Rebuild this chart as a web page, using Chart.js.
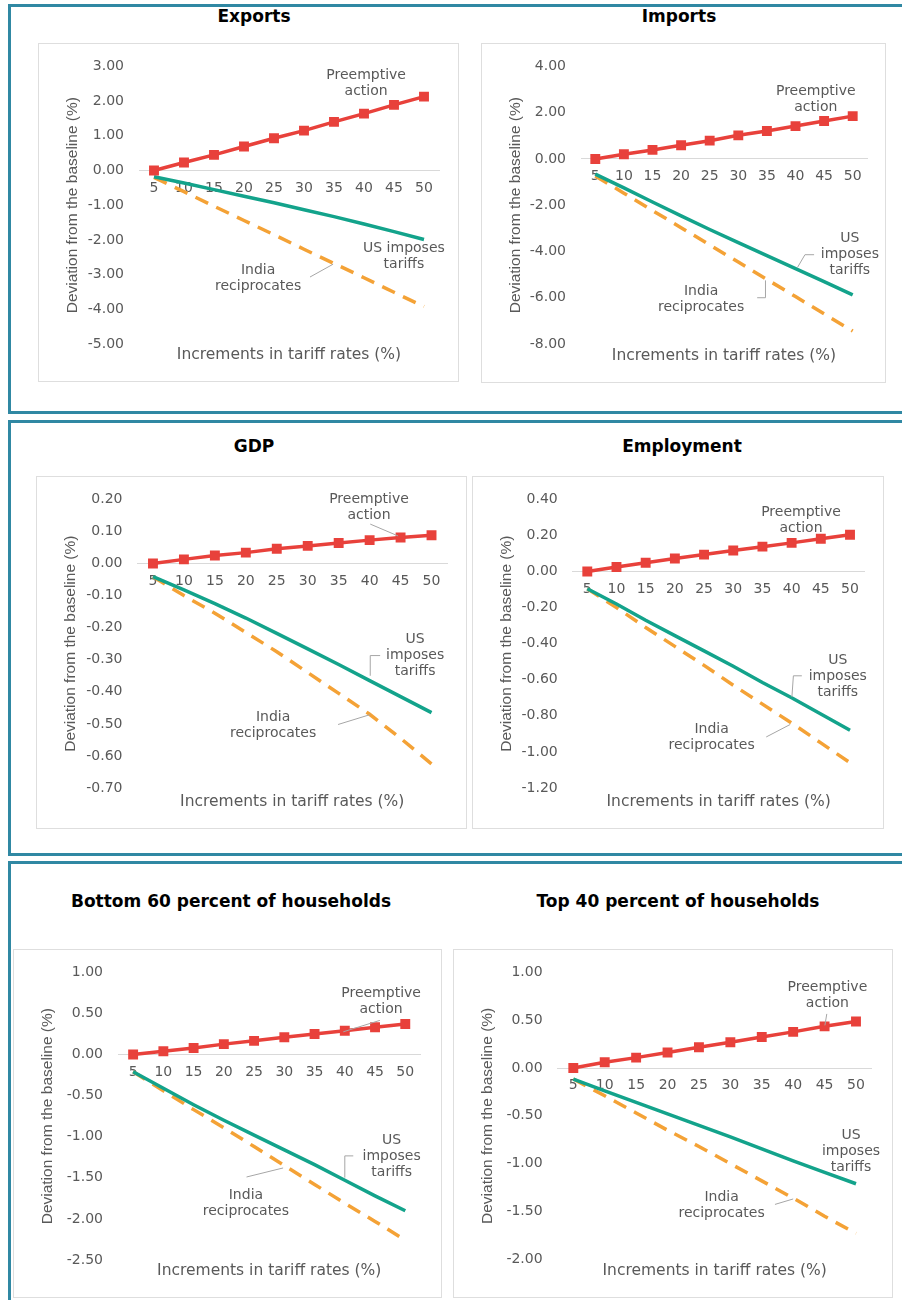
<!DOCTYPE html>
<html>
<head>
<meta charset="utf-8">
<script src="https://cdn.jsdelivr.net/npm/chart.js@4.4.1/dist/chart.umd.min.js"></script>
<style>
  body { margin: 0; background: #fff; width: 902px; height: 1300px; position: relative; overflow: hidden; }
  .row { position: absolute; left: 8px; width: 900px; border: 3px solid #3088a3; border-right: none; box-sizing: border-box; }
  .ttl { position: absolute; width: 440px; text-align: center; font: bold 17px "DejaVu Sans"; color: #000; line-height: 20px; }
  .box { position: absolute; box-shadow: inset 0 0 0 1px #dedede; }
  .box canvas { position: absolute; left: 0; top: 0; }
</style>
</head>
<body>
<div class="row" style="top:4px;height:410px"></div>
<div class="row" style="top:420px;height:436px"></div>
<div class="row" style="top:861px;height:470px"></div>
<div id="wrap"></div>
<script>
// tariff increments (x axis)
const tariffSteps = ['5', '10', '15', '20', '25', '30', '35', '40', '45', '50'];

// exports
const exportsPreempt = [0, 0.23, 0.45, 0.69, 0.93, 1.15, 1.40, 1.64, 1.89, 2.13];
const exportsUS = [-0.18, -0.36, -0.55, -0.74, -0.93, -1.13, -1.33, -1.54, -1.76, -1.99];
const exportsIndia = [-0.20, -0.61, -1.03, -1.44, -1.85, -2.27, -2.68, -3.09, -3.51, -3.92];
const exportsTicks = [3, 2, 1, 0, -1, -2, -3, -4, -5];

// imports
const importsPreempt = [0, 0.20, 0.39, 0.59, 0.79, 1.02, 1.21, 1.42, 1.64, 1.85];
const importsUS = [-0.66, -1.25, -1.86, -2.46, -3.05, -3.62, -4.18, -4.74, -5.30, -5.88];
const importsIndia = [-0.74, -1.48, -2.23, -2.97, -3.72, -4.46, -5.21, -5.95, -6.70, -7.44];
const importsTicks = [4, 2, 0, -2, -4, -6, -8];

// gdp
const gdpPreempt = [0, 0.013, 0.025, 0.034, 0.046, 0.055, 0.064, 0.073, 0.081, 0.088];
const gdpUS = [-0.041, -0.082, -0.125, -0.170, -0.218, -0.266, -0.315, -0.365, -0.415, -0.465];
const gdpIndia = [-0.041, -0.100, -0.155, -0.215, -0.275, -0.340, -0.405, -0.470, -0.545, -0.625];
const gdpTicks = [0.2, 0.1, 0, -0.1, -0.2, -0.3, -0.4, -0.5, -0.6, -0.7];

// employment
const empPreempt = [0, 0.025, 0.049, 0.072, 0.094, 0.117, 0.138, 0.159, 0.182, 0.204];
const empUS = [-0.095, -0.18, -0.27, -0.355, -0.44, -0.525, -0.615, -0.70, -0.79, -0.88];
const empIndia = [-0.095, -0.20, -0.31, -0.415, -0.52, -0.63, -0.735, -0.84, -0.95, -1.06];
const empTicks = [0.4, 0.2, 0, -0.2, -0.4, -0.6, -0.8, -1.0, -1.2];

// bottom 60 percent
const bottomPreempt = [0, 0.04, 0.08, 0.127, 0.167, 0.21, 0.25, 0.29, 0.333, 0.372];
const bottomUS = [-0.21, -0.41, -0.61, -0.80, -0.98, -1.16, -1.34, -1.53, -1.72, -1.90];
const bottomIndia = [-0.21, -0.44, -0.67, -0.89, -1.12, -1.35, -1.58, -1.81, -2.03, -2.26];
const bottomTicks = [1, 0.5, 0, -0.5, -1, -1.5, -2, -2.5];

// top 40 percent
const topPreempt = [0, 0.061, 0.109, 0.163, 0.218, 0.27, 0.324, 0.378, 0.436, 0.487];
const topUS = [-0.115, -0.24, -0.36, -0.48, -0.60, -0.72, -0.845, -0.97, -1.09, -1.21];
const topIndia = [-0.115, -0.29, -0.47, -0.65, -0.82, -1.00, -1.18, -1.36, -1.55, -1.73];
const topTicks = [1, 0.5, 0, -0.5, -1, -1.5, -2];

const preLbl = ['Preemptive', 'action'];
const usLbl = ['US', 'imposes', 'tariffs'];
const indLbl = ['India', 'reciprocates'];

// panel layout: box = [left, top, width, height]
const panels = [
  { title: 'Exports', tx: 254, ty: 16, box: [38, 43, 421, 339], axisW: 101, top: 17, right: 20, bottom: 38,
    pre: exportsPreempt, us: exportsUS, india: exportsIndia, ticks: exportsTicks,
    notes: [{ t: preLbl, at: [7.07, 2.51] }, { t: ['US imposes', 'tariffs'], at: [8.33, -2.46] }, { t: indLbl, at: [3.47, -3.10] }],
    leaders: [[[5.2, -3.07], [5.97, -2.70]]] },
  { title: 'Imports', tx: 679, ty: 16, box: [481, 43, 405, 340], axisW: 100, top: 17, right: 19, bottom: 39,
    pre: importsPreempt, us: importsUS, india: importsIndia, ticks: importsTicks,
    notes: [{ t: preLbl, at: [7.71, 2.58] }, { t: usLbl, at: [8.9, -4.14] }, { t: indLbl, at: [3.7, -6.07] }],
    leaders: [[[7.65, -4.14], [7.33, -4.14], [7.07, -4.69]], [[5.66, -6.0], [5.95, -6.0], [5.95, -5.25]]] },
  { title: 'GDP', tx: 254, ty: 446, box: [36, 476, 431, 353], axisW: 101.5, top: 17, right: 20, bottom: 41,
    pre: gdpPreempt, us: gdpUS, india: gdpIndia, ticks: gdpTicks,
    notes: [{ t: preLbl, at: [6.98, 0.175] }, { t: usLbl, at: [8.47, -0.286] }, { t: indLbl, at: [3.88, -0.505] }],
    leaders: [[[7.02, 0.123], [7.92, 0.086]], [[7.34, -0.287], [7.02, -0.287], [7.02, -0.35]], [[5.98, -0.502], [7.02, -0.471]]] },
  { title: 'Employment', tx: 682, ty: 446, box: [472, 476, 412, 353], axisW: 100.7, top: 17, right: 19.4, bottom: 41,
    pre: empPreempt, us: empUS, india: empIndia, ticks: empTicks,
    notes: [{ t: preLbl, at: [7.32, 0.286] }, { t: usLbl, at: [8.58, -0.579] }, { t: indLbl, at: [4.26, -0.917] }],
    leaders: [[[7.35, -0.578], [7.06, -0.578], [7.01, -0.695]], [[6.13, -0.917], [6.95, -0.848]]] },
  { title: 'Bottom 60 percent of households', tx: 231, ty: 901, box: [13, 949, 429, 349], axisW: 105, top: 16.7, right: 21.6, bottom: 38,
    pre: bottomPreempt, us: bottomUS, india: bottomIndia, ticks: bottomTicks,
    notes: [{ t: preLbl, at: [8.2, 0.65] }, { t: usLbl, at: [8.55, -1.237] }, { t: indLbl, at: [3.73, -1.805] }],
    leaders: [[[6.95, 0.277], [8.16, 0.416]], [[7.28, -1.233], [7.0, -1.233], [7.0, -1.498]], [[3.75, -1.49], [4.96, -1.38]]] },
  { title: 'Top 40 percent of households', tx: 678, ty: 901, box: [453, 949, 440, 349], axisW: 104.6, top: 16.7, right: 21.3, bottom: 38.7,
    pre: topPreempt, us: topUS, india: topIndia, ticks: topTicks,
    notes: [{ t: preLbl, at: [8.09, 0.758] }, { t: usLbl, at: [8.84, -0.868] }, { t: indLbl, at: [4.72, -1.433] }],
    leaders: [[[8.07, 0.566], [8.01, 0.446]], [[6.42, -1.426], [7.0, -1.369]]] }
];

const grey = '#595959';
const wrap = document.getElementById('wrap');

function notesPlugin(p) {
  return {
    id: 'notes',
    afterDatasetsDraw(chart) {
      const { ctx, scales: { x, y } } = chart;
      ctx.save();
      ctx.strokeStyle = '#a6a6a6';
      ctx.lineWidth = 1;
      p.leaders.forEach(pts => {
        ctx.beginPath();
        pts.forEach(([i, v], k) => {
          const px = x.getPixelForValue(i), py = y.getPixelForValue(v);
          if (k) ctx.lineTo(px, py); else ctx.moveTo(px, py);
        });
        ctx.stroke();
      });
      ctx.fillStyle = grey;
      ctx.font = '14px "DejaVu Sans"';
      ctx.textAlign = 'center';
      ctx.textBaseline = 'middle';
      p.notes.forEach(n => {
        const cx = x.getPixelForValue(n.at[0]);
        const cy = y.getPixelForValue(n.at[1]);
        n.t.forEach((s, k) => ctx.fillText(s, cx, cy + (k - (n.t.length - 1) / 2) * 16));
      });
      ctx.restore();
    }
  };
}

panels.forEach(p => {
  const t = document.createElement('div');
  t.className = 'ttl';
  t.style.left = (p.tx - 220) + 'px';
  t.style.top = (p.ty - 10) + 'px';
  t.textContent = p.title;
  wrap.appendChild(t);

  const b = document.createElement('div');
  b.className = 'box';
  b.style.left = p.box[0] + 'px';
  b.style.top = p.box[1] + 'px';
  b.style.width = p.box[2] + 'px';
  b.style.height = p.box[3] + 'px';
  const cv = document.createElement('canvas');
  b.appendChild(cv);
  wrap.appendChild(b);

  new Chart(cv, {
    type: 'line',
    data: {
      labels: tariffSteps,
      datasets: [
        { label: 'Preemptive action', data: p.pre, borderColor: '#e8413b', backgroundColor: '#e8413b',
          borderWidth: 3.5, pointStyle: 'rect', pointRadius: 7, pointBorderWidth: 0, tension: 0 },
        { label: 'US imposes tariffs', data: p.us, borderColor: '#13a38b', borderWidth: 3.5, pointRadius: 0, tension: 0 },
        { label: 'India reciprocates', data: p.india, borderColor: '#f4a236', borderWidth: 3.5, borderDash: [14, 9],
          pointRadius: 0, tension: 0 }
      ]
    },
    options: {
      responsive: true,
      maintainAspectRatio: false,
      animation: false,
      layout: { padding: { top: p.top, right: p.right, left: 0, bottom: 0 } },
      plugins: { legend: { display: false }, tooltip: { enabled: false } },
      scales: {
        x: {
          type: 'category',
          offset: true,
          position: { y: 0 },
          grid: { display: false, drawTicks: false },
          border: { display: true, color: '#d9d9d9', width: 1 },
          ticks: { color: grey, font: { family: 'DejaVu Sans', size: 14 }, padding: 9, maxRotation: 0, autoSkip: false }
        },
        x2: {
          type: 'category',
          position: 'bottom',
          grid: { display: false, drawTicks: false },
          border: { display: false },
          ticks: { display: false },
          title: { display: true, text: 'Increments in tariff rates (%)', color: grey,
                   font: { family: 'DejaVu Sans', size: 15.5 }, padding: { top: 0, bottom: 18 } },
          afterFit: s => { s.height = p.bottom; }
        },
        y: {
          min: Math.min(...p.ticks),
          max: Math.max(...p.ticks),
          grid: { display: false, drawTicks: false },
          border: { display: false },
          afterBuildTicks: s => { s.ticks = p.ticks.map(v => ({ value: v })); },
          ticks: { color: grey, font: { family: 'DejaVu Sans', size: 14 }, padding: 15,
                   callback: v => Number(v).toFixed(2) },
          title: { display: true, text: 'Deviation from the baseline (%)', color: grey,
                   font: { family: 'Liberation Sans', size: 15.5 }, padding: { top: 25, bottom: 0 } },
          afterFit: s => { s.width = p.axisW; }
        }
      }
    },
    plugins: [notesPlugin(p)]
  });
});
</script>
</body>
</html>
